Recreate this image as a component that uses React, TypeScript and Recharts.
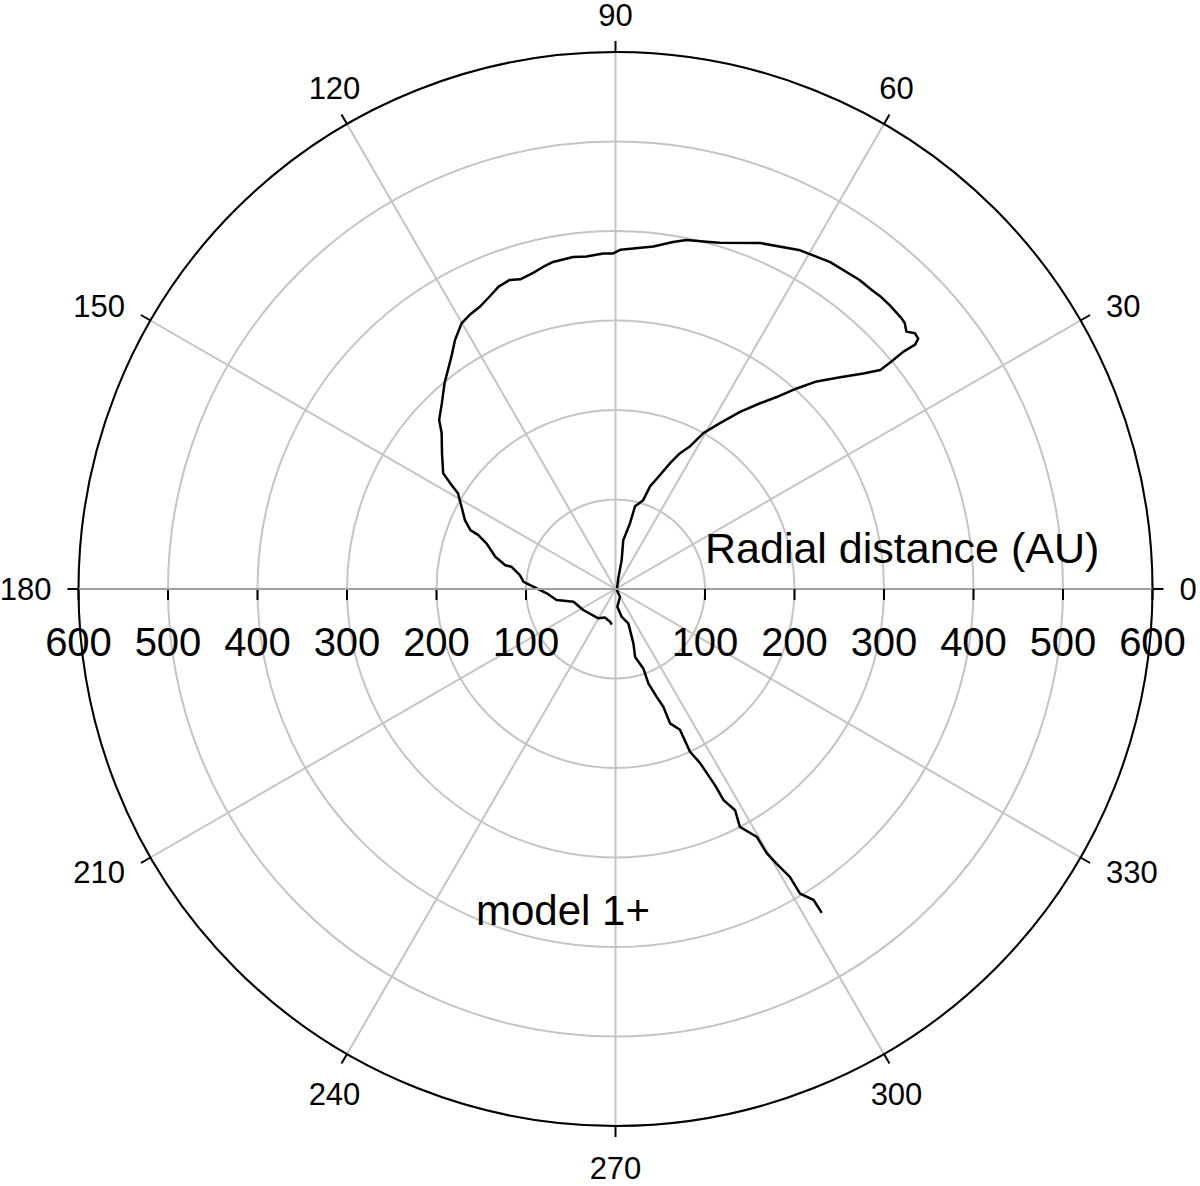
import { RadarChart, PolarGrid, PolarAngleAxis, PolarRadiusAxis, Radar } from "recharts";

const angleTicks = [0, 30, 60, 90, 120, 150, 180, 210, 240, 270, 300, 330];
const radiusTicks = [0, 100, 200, 300, 400, 500, 600];

// model 1+ track: polar angle (deg) and radial distance (AU), in drawing order
const trackAngle = [
  302.5, 302.5, 301.2, 301.2, 300.4, 299.8, 299.7, 297.6, 298.4, 297.1,
  296.9, 295.9, 294.6, 294.6, 292.1, 292.1, 290.9, 289.2, 289.3, 286.1,
  288.2, 290.5, 282.6, 275.8, 300.3, 320, 75.3, 77.9, 81.0, 77.6,
  76.7, 72.7, 71.4, 69.1, 66.6, 64.6, 62.4, 60.6, 57.8, 54.9,
  52.1, 50.0, 47.9, 45.9, 43.3, 41.0, 39.6, 39.5, 39.5, 39.2,
  39.6, 40.5, 41.5, 42.6, 43.4, 46.0, 47.9, 49.4, 51.7, 56.7,
  61.4, 67.3, 73.2, 75.3, 78.5, 80.6, 83.7, 87.0, 89.2, 90.4,
  92.1, 95.0, 97.3, 100.8, 102.6, 104.6, 107.1, 108.9, 111.2, 112.5,
  115.6, 118.0, 120.1, 122.8, 125.2, 129.7, 133.1, 136.2, 138.1, 142.0,
  146.1, 147.4, 148.7, 151.9, 155.4, 157.9, 158.5, 160.5, 165.0, 167.8,
  167.9, 171.7, 175.5, 178.4, 183.6, 190.6, 196.8, 213.1, 239.6, 249.6,
  260.5, 264.0,
];
const trackRadius = [
  429, 412, 398, 376, 356, 340, 319, 300, 281, 265,
  246, 216, 200, 173, 162, 142, 129, 112, 94, 79,
  64, 41, 32, 20, 10, 2, 12, 33, 55, 75,
  95, 104, 121, 134, 153, 168, 180, 200, 219, 242,
  263, 280, 302, 323, 345, 367, 384, 400, 417, 432,
  439, 440, 434, 439, 440, 441, 441, 440, 440, 437,
  431, 419, 404, 401, 398, 393, 385, 381, 379, 375,
  375, 373, 374, 372, 369, 365, 362, 365, 362, 358,
  350, 347, 343, 331, 318, 299, 284, 273, 261, 246,
  232, 219, 206, 195, 185, 175, 165, 153, 139, 126,
  119, 108, 103, 92, 77, 67, 49, 43, 38, 34,
  37, 40,
];

const track = trackAngle.map((a, i) => ({ angle: a, r: trackRadius[i] }));

const FONT = "'Liberation Sans', Arial, sans-serif";
const CX = 615.5;
const CY = 589;

function AngleTick(props: any) {
  const { x, y, payload } = props;
  const a = (payload.value * Math.PI) / 180;
  const c = Math.cos(a);
  const s = Math.sin(a);
  let tx = x;
  let ty = y;
  let anchor = "middle";
  if (Math.abs(c) > 0.7) {
    anchor = c > 0 ? "start" : "end";
    tx = x + (c > 0 ? 16 : -16);
    ty = y - s * 18;
  } else {
    tx = x + c * 14;
    ty = s > 0 ? y - 26 : y + 31;
  }
  return (
    <text x={tx} y={ty} textAnchor={anchor} dominantBaseline="central" fontSize={31} fontFamily={FONT} fill="#000">
      {payload.value}
    </text>
  );
}

// tick + label on the 0° half, mirrored onto the 180° half
function RadiusTick(props: any) {
  const { x, y, payload } = props;
  if (payload.value === 0) return <g />;
  const mx = 2 * CX - x;
  return (
    <g>
      {payload.value === 600 && (
        <line x1={mx} y1={y} x2={CX} y2={y} stroke="#a0a0a0" strokeWidth={2} />
      )}
      <line x1={x} y1={y} x2={x} y2={y + 11} stroke="#000" strokeWidth={2} />
      <line x1={mx} y1={y} x2={mx} y2={y + 11} stroke="#000" strokeWidth={2} />
      <text x={x} y={y + 53} textAnchor="middle" dominantBaseline="central" fontSize={40} fontFamily={FONT} fill="#000">
        {payload.value}
      </text>
      <text x={mx} y={y + 53} textAnchor="middle" dominantBaseline="central" fontSize={40} fontFamily={FONT} fill="#000">
        {payload.value}
      </text>
    </g>
  );
}

// open path through the points recharts computed (radar would close it)
function TrackLine(props: any) {
  const pts = (props.points || []).filter((p: any) => Number.isFinite(p.x) && Number.isFinite(p.y));
  const d = pts.map((p: any, i: number) => `${i ? "L" : "M"}${p.x},${p.y}`).join(" ");
  return <path d={d} fill="none" stroke="#000" strokeWidth={2.5} strokeLinejoin="round" />;
}

export default function App() {
  return (
    <div style={{ position: "absolute", left: 0, top: 0, width: 1200, height: 1186, background: "#fff" }}>
      <RadarChart
        width={1200}
        height={1186}
        data={track}
        cx={CX}
        cy={CY}
        innerRadius={0}
        outerRadius={537}
        startAngle={0}
        endAngle={360}
        margin={{ top: 0, right: 0, bottom: 0, left: 0 }}
      >
        <PolarGrid gridType="circle" stroke="#c4c4c4" strokeWidth={2} />
        <PolarAngleAxis
          dataKey="angle"
          type="number"
          domain={[0, 360]}
          ticks={angleTicks}
          axisLineType="circle"
          axisLine={{ stroke: "#000", strokeWidth: 2 }}
          tickLine={{ stroke: "#000", strokeWidth: 2 }}
          tickSize={11}
          tick={<AngleTick />}
        />
        <PolarRadiusAxis
          angle={0}
          type="number"
          domain={[0, 600]}
          ticks={radiusTicks}
          tickCount={7}
          axisLine={{ stroke: "#a0a0a0", strokeWidth: 2 }}
          tick={<RadiusTick />}
        />
        <Radar dataKey="r" shape={<TrackLine />} dot={false} isAnimationActive={false} />
      </RadarChart>
      <svg width={1200} height={1186} style={{ position: "absolute", left: 0, top: 0, pointerEvents: "none" }}>
        <text x={705} y={563} fontSize={43} fontFamily={FONT} fill="#000">
          Radial distance (AU)
        </text>
        <text x={476} y={925} fontSize={42} fontFamily={FONT} fill="#000">
          model 1+
        </text>
      </svg>
    </div>
  );
}
